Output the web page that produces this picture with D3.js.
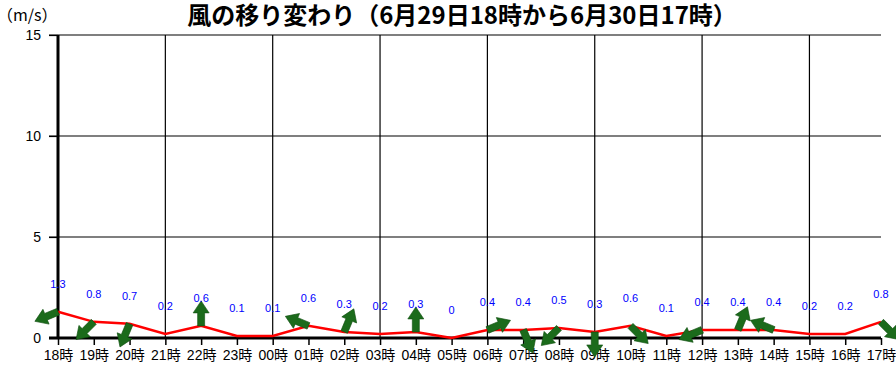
<!DOCTYPE html>
<html>
<head>
<meta charset="utf-8">
<script src="https://cdn.jsdelivr.net/npm/d3@7"></script>
<style>
  body { margin: 0; background: #fff; }
  svg { display: block; }
</style>
</head>
<body>
<div id="chart"></div>
<script>
var hours = ["18時", "19時", "20時", "21時", "22時", "23時", "00時", "01時", "02時", "03時", "04時", "05時",
             "06時", "07時", "08時", "09時", "10時", "11時", "12時", "13時", "14時", "15時", "16時", "17時"];
var speed = [1.3, 0.8, 0.7, 0.2, 0.6, 0.1, 0.1, 0.6, 0.3, 0.2, 0.3, 0,
             0.4, 0.4, 0.5, 0.3, 0.6, 0.1, 0.4, 0.4, 0.4, 0.2, 0.2, 0.8];
// wind direction (where it blows from), null = no arrow
var windFrom = ["ENE", "NE", "NNE", null, "S", null, null, "ESE", "SSW", null, "S", null,
                "WSW", "NNW", "NE", "N", "NW", null, "ENE", "SSW", "ESE", null, null, "NW"];
var yTicks = [0, 5, 10, 15];
var gridHours = ["21時", "00時", "03時", "06時", "09時", "12時", "15時"];
var compass = ["N", "NNE", "NE", "ENE", "E", "ESE", "SE", "SSE", "S", "SSW", "SW", "WSW", "W", "WNW", "NW", "NNW"];

var W = 896, H = 366;
var plotL = 58, plotR = 881, plotT = 35, plotB = 338;
var latin = "'Liberation Sans', 'Noto Sans CJK JP', sans-serif";

var svg = d3.select("#chart").append("svg")
  .attr("width", W)
  .attr("height", H);

var x = d3.scalePoint().domain(hours).range([plotL, plotR]);
var y = d3.scaleLinear().domain([0, 15]).range([plotB, plotT]);

// title
svg.append("text")
  .attr("x", 462)
  .attr("y", 24)
  .attr("text-anchor", "middle")
  .attr("font-size", "24px")
  .attr("font-weight", "bold")
  .attr("font-family", "'Noto Sans CJK JP', sans-serif")
  .text("風の移り変わり（6月29日18時から6月30日17時）");

svg.append("text")
  .attr("x", -3)
  .attr("y", 21)
  .attr("font-size", "16px")
  .attr("font-family", "'Noto Sans CJK JP', sans-serif")
  .text("（m/s）");

// grid
svg.append("g").selectAll("line")
  .data(yTicks.slice(1))
  .enter().append("line")
  .attr("x1", plotL - 9).attr("x2", plotR)
  .attr("y1", function(d) { return y(d); })
  .attr("y2", function(d) { return y(d); })
  .attr("stroke", "#000")
  .attr("stroke-width", 1.2);

svg.append("g").selectAll("line")
  .data(gridHours)
  .enter().append("line")
  .attr("x1", function(d) { return x(d); })
  .attr("x2", function(d) { return x(d); })
  .attr("y1", plotT).attr("y2", plotB)
  .attr("stroke", "#000")
  .attr("stroke-width", 1.2);

// axes
var yAxis = d3.axisLeft(y).tickValues(yTicks).tickSize(9).tickPadding(8);
var gy = svg.append("g")
  .attr("transform", "translate(" + plotL + ",0)")
  .call(yAxis);
gy.select(".domain").attr("stroke-width", 3).attr("d", "M0," + plotT + "V" + plotB);
gy.selectAll(".tick line").attr("stroke-width", 1.2);
gy.selectAll(".tick text").attr("font-size", "14px").attr("fill", "#000")
  .attr("font-family", latin);

var xAxis = d3.axisBottom(x).tickSize(7).tickPadding(5);
var gx = svg.append("g")
  .attr("transform", "translate(0," + plotB + ")")
  .call(xAxis);
gx.select(".domain").attr("stroke-width", 3).attr("d", "M" + (plotL - 9) + ",0H" + plotR);
gx.selectAll(".tick line").attr("stroke-width", 1.5);
gx.selectAll(".tick text").attr("font-size", "14px").attr("fill", "#000")
  .attr("font-family", latin);

// speed line
var line = d3.line()
  .x(function(d, i) { return x(hours[i]); })
  .y(function(d) { return y(d); });

svg.append("path")
  .datum(speed)
  .attr("d", line)
  .attr("fill", "none")
  .attr("stroke", "#ff0000")
  .attr("stroke-width", 2.5);

// wind arrows
var arrowPath = "M-3.5,0V-13H-8L0,-25L8,-13H3.5V0Z";
svg.append("g").selectAll("path")
  .data(speed.map(function(d, i) { return {h: hours[i], v: d, dir: windFrom[i]}; })
    .filter(function(d) { return d.dir; }))
  .enter().append("path")
  .attr("d", arrowPath)
  .attr("fill", "#1b6b1b")
  .attr("stroke", "#0f4f0f")
  .attr("stroke-width", 0.6)
  .attr("transform", function(d) {
    var deg = compass.indexOf(d.dir) * 22.5 + 180;
    return "translate(" + x(d.h) + "," + y(d.v) + ") rotate(" + deg + ")";
  });

// value labels
svg.append("g").selectAll("text")
  .data(speed)
  .enter().append("text")
  .attr("x", function(d, i) { return x(hours[i]); })
  .attr("y", function(d) { return y(d) - 24; })
  .attr("text-anchor", "middle")
  .attr("font-size", "11px")
  .attr("fill", "#0000ff")
  .attr("font-family", latin)
  .text(function(d) { return d; });
</script>
</body>
</html>
